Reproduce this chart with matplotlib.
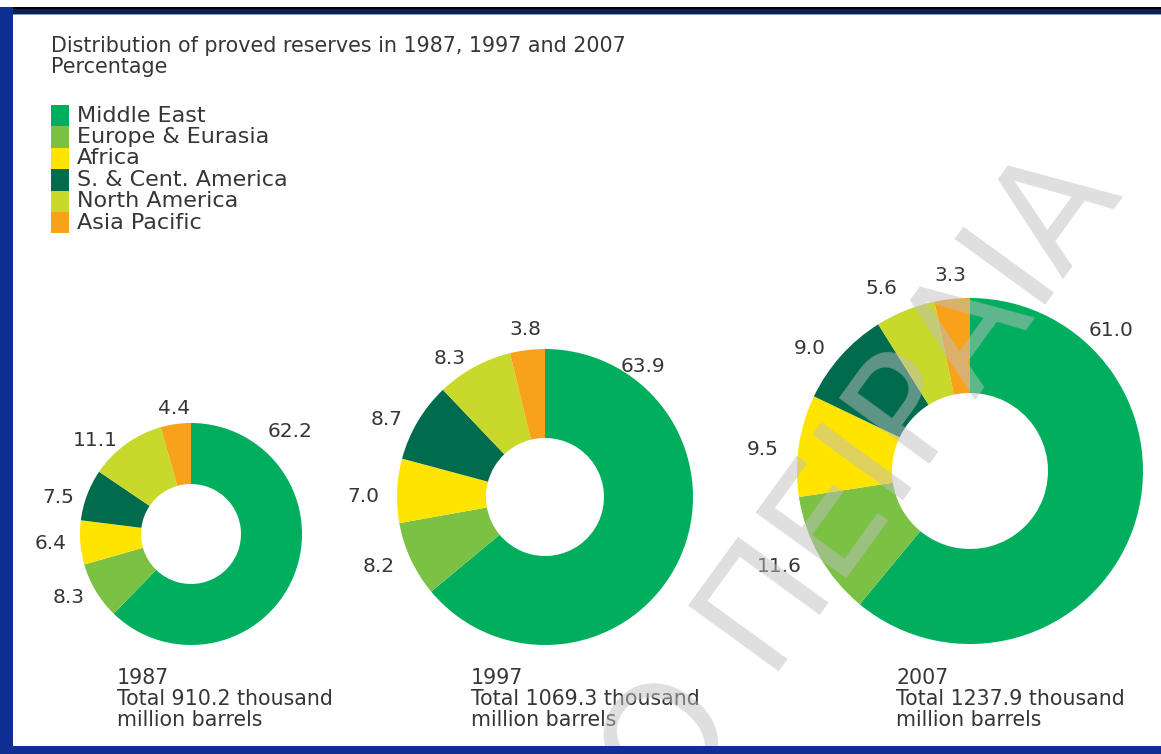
import numpy as np
import matplotlib.pyplot as plt
from matplotlib.patches import Rectangle

regions = ['Middle East', 'Europe & Eurasia', 'Africa', 'S. & Cent. America',
           'North America', 'Asia Pacific']
colors = ['#00ae5e', '#7bc143', '#ffe400', '#006b4d', '#c8d92c', '#f8a21c']
years = ['1987', '1997', '2007']
totals = [910.2, 1069.3, 1237.9]
share_1987 = [62.2, 8.3, 6.4, 7.5, 11.1, 4.4]
share_1997 = [63.9, 8.2, 7.0, 8.7, 8.3, 3.8]
share_2007 = [61.0, 11.6, 9.5, 9.0, 5.6, 3.3]
shares = [share_1987, share_1997, share_2007]

W, H = 1161, 754
# ring layout in pixels: centre x, centre y (from top), outer radius, hole radius
rings = [(191, 534, 111, 50), (545, 497, 148, 59), (970, 471, 173, 78)]
# where the big Middle East label sits: angle (deg) and distance / radius
lead_label = [(46, 1.28), (53, 1.10), (45, 1.15)]

ink = '#363636'
plt.rcParams['font.family'] = ['DejaVu Sans']

fig = plt.figure(figsize=(W / 100, H / 100), dpi=100)
ax = fig.add_axes([0, 0, 1, 1])

for (cx, cy, R, r), vals, year, total, (lang, lr) in zip(rings, shares, years, totals, lead_label):
    wedges, _ = ax.pie(vals, colors=colors, radius=R, center=(cx, H - cy),
                       startangle=90, counterclock=False,
                       wedgeprops=dict(width=R - r, linewidth=0))
    for i, (w, v) in enumerate(zip(wedges, vals)):
        if i == 0:
            ang, dist, ha = np.radians(lang), lr * R, 'center'
            nudge = 0
        else:
            ang = np.radians((w.theta1 + w.theta2) / 2)
            dist = 1.12 * R
            c = np.cos(ang)
            ha = 'right' if c < -0.2 else ('left' if c > 0.2 else 'center')
            # upper labels sit a touch lower
            nudge = -7 if np.sin(ang) > 0 else 0
        va = 'bottom' if np.sin(ang) > 0.9 else 'center'
        ax.text(cx + dist * np.cos(ang), H - cy + dist * np.sin(ang) + nudge, f'{v:.1f}',
                ha=ha, va=va, fontsize=14.5, color=ink)
    ax.text(cx - 74, H - 668, f'{year}\nTotal {total:.1f} thousand\nmillion barrels',
            ha='left', va='top', fontsize=14.8, color=ink, linespacing=1.05)

# title block
ax.text(51, H - 36, 'Distribution of proved reserves in 1987, 1997 and 2007\nPercentage',
        ha='left', va='top', fontsize=14.9, color=ink, linespacing=1.08)

# legend: stacked colour blocks with names
row = 21.4
for i, (name, col) in enumerate(zip(regions, colors)):
    top = 105 + row * i
    ax.add_patch(Rectangle((51, H - top - row), 18, row, facecolor=col, edgecolor='none'))
    ax.text(77, H - top - row / 2, name, ha='left', va='center', fontsize=16, color=ink)

# watermark across the right half
ax.text(1125, H - 195, 'ΠΑΝΕΠΙΣΤΗΜΙΟ ΠΕΙΡΑΙΑ', fontsize=110,
        color='#bfbfbf', alpha=0.5, rotation=54, rotation_mode='anchor',
        ha='right', va='baseline', zorder=10)

# frame
ax.add_patch(Rectangle((0, H - 9), W, 2, facecolor='black', edgecolor='none', zorder=11))
ax.add_patch(Rectangle((0, H - 14), W, 5, facecolor='#0b2050', edgecolor='none', zorder=11))
ax.add_patch(Rectangle((0, H - 15), W, 1, facecolor='#8aa0c4', edgecolor='none', zorder=11))
ax.add_patch(Rectangle((0, 0), 13, H - 7, facecolor='#0f2f92', edgecolor='none', zorder=11))
ax.add_patch(Rectangle((0, 0), W, 8, facecolor='#0f2f92', edgecolor='none', zorder=11))

ax.set_xlim(0, W)
ax.set_ylim(0, H)
ax.set_aspect('auto')
ax.set_axis_off()

fig.savefig('out.png', dpi=100, facecolor='white')
